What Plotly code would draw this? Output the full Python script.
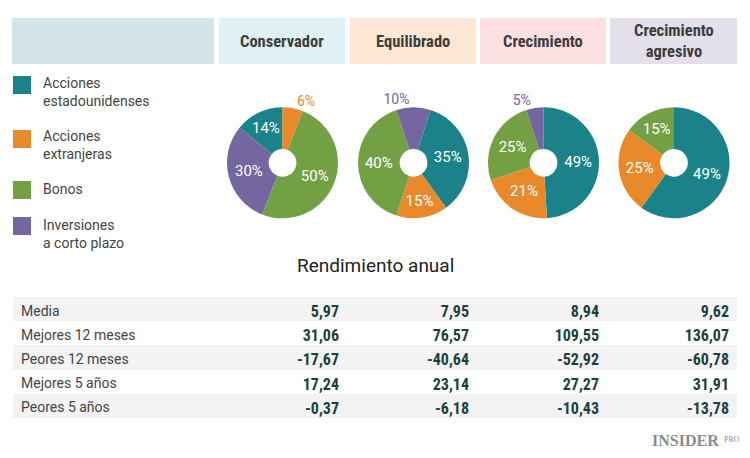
import plotly.graph_objects as go

W, H = 750, 458

# ---------------- data ----------------
portfolios = ["Conservador", "Equilibrado", "Crecimiento", "Crecimiento<br>agresivo"]
assets = ["Acciones<br>estadounidenses", "Acciones<br>extranjeras", "Bonos", "Inversiones<br>a corto plazo"]
asset_colors = ["#1b8289", "#e8892b", "#74a044", "#7466a0"]

conservador = [14, 6, 50, 30]
equilibrado = [35, 15, 40, 10]
crecimiento = [49, 21, 25, 5]
agresivo = [60, 25, 15, 0]            # slice sizes as drawn
agresivo_labels = ["49%", "25%", "15%", ""]  # labels as printed

metrics = ["Media", "Mejores 12 meses", "Peores 12 meses", "Mejores 5 años", "Peores 5 años"]
ret_conservador = [5.97, 31.06, -17.67, 17.24, -0.37]
ret_equilibrado = [7.95, 76.57, -40.64, 23.14, -6.18]
ret_crecimiento = [8.94, 109.55, -52.92, 27.27, -10.43]
ret_agresivo = [9.62, 136.07, -60.78, 31.91, -13.78]

# ---------------- layout helpers ----------------
def fx(x):
    return x / W

def fy(y):
    return 1 - y / H

def fmt(v):
    return f"{v:.2f}".replace(".", ",")

header_colors = ["#d3e5e8", "#dff1f4", "#fbe7d4", "#fcdfe1", "#e3e0eb"]
header_x = [(12, 214), (219, 345), (350, 476), (480, 606), (610, 737)]
header_y = (18, 64)

fig = go.Figure()
shapes = []
annotations = []

for (x0, x1), c in zip(header_x, header_colors):
    shapes.append(dict(type="rect", xref="paper", yref="paper",
                       x0=fx(x0), x1=fx(x1), y0=fy(header_y[1]), y1=fy(header_y[0]),
                       fillcolor=c, line=dict(width=0), layer="below"))

for name, (x0, x1) in zip(portfolios, header_x[1:]):
    annotations.append(dict(text=f"<b>{name}</b>", xref="paper", yref="paper",
                            x=fx((x0 + x1) / 2), y=fy(sum(header_y) / 2),
                            xanchor="center", yanchor="middle", showarrow=False,
                            font=dict(family="Roboto Condensed, Liberation Sans Narrow, Roboto", size=16.5, color="#3d3d3d")))

# legend (manual)
leg_sq_top = [76, 130, 181, 217]
leg_txt_mid = [92, 145, 189, 234]
for a, c, t, m in zip(assets, asset_colors, leg_sq_top, leg_txt_mid):
    shapes.append(dict(type="rect", xref="paper", yref="paper",
                       x0=fx(13), x1=fx(31), y0=fy(t + 18), y1=fy(t),
                       fillcolor=c, line=dict(width=0)))
    annotations.append(dict(text=a, xref="paper", yref="paper", x=fx(41), y=fy(m),
                            xanchor="left", yanchor="middle", align="left", showarrow=False,
                            font=dict(family="Roboto", size=14, color="#444444")))

# pies
pie_values = [conservador, equilibrado, crecimiento, agresivo]
pie_labels = [[f"{v}%" for v in conservador], [f"{v}%" for v in equilibrado],
              [f"{v}%" for v in crecimiento], agresivo_labels]
rotations = [-50.4, 18, 0, 0]
cy, r = 162.8, 55.5
for (x0, x1), vals, labs, rot in zip(header_x[1:], pie_values, pie_labels, rotations):
    cx = (x0 + x1) / 2 + 0.5
    pos = ["outside" if v < 12 else "inside" for v in vals]
    fig.add_trace(go.Pie(
        values=vals, labels=assets, text=labs, textinfo="text",
        sort=False, direction="clockwise", rotation=rot, hole=0.25,
        marker=dict(colors=asset_colors, line=dict(width=0)),
        textposition=pos, insidetextorientation="horizontal",
        insidetextfont=dict(family="Roboto", size=15, color="white"),
        outsidetextfont=dict(family="Roboto", size=14, color=asset_colors),
        showlegend=False, hoverinfo="label+percent",
        domain=dict(x=[fx(cx - r), fx(cx + r)], y=[fy(cy + r), fy(cy - r)]),
    ))

# title of table
annotations.append(dict(text="Rendimiento anual", xref="paper", yref="paper",
                        x=fx(375), y=fy(265), xanchor="center", yanchor="middle", showarrow=False,
                        font=dict(family="Roboto", size=19, color="#222222")))

# table (first row drawn as the header row so there is no empty header band)
cols = [metrics,
        [fmt(v) for v in ret_conservador],
        [fmt(v) for v in ret_equilibrado],
        [fmt(v) for v in ret_crecimiento],
        [fmt(v) for v in ret_agresivo]]
n = len(metrics)
row_fill = ["#f3f3f3" if i % 2 == 0 else "#ffffff" for i in range(n)]
val_font = "Roboto Condensed, Liberation Sans Narrow, Roboto"
vcol = "#1f3f3c"
tfont = dict(family=["Roboto", val_font, val_font, val_font, val_font],
             size=[14, 16, 16, 16, 16],
             weight=[400, 700, 700, 700, 700],
             color=["#444444", vcol, vcol, vcol, vcol])
aligns = ["left", "right", "right", "right", "right"]
rh = 24.2
fig.add_trace(go.Table(
    domain=dict(x=[fx(13), fx(737)], y=[fy(297 + rh * n), fy(297)]),
    columnwidth=[204, 130, 130, 130, 130],
    header=dict(values=[[c[0]] for c in cols], align=aligns, height=rh,
                line=dict(width=0), fill=dict(color=row_fill[0]), font=tfont),
    cells=dict(values=[c[1:] for c in cols], align=aligns, height=rh,
               fill=dict(color=[row_fill[1:]] * 5), line=dict(width=0), font=tfont),
))

# logo
annotations.append(dict(text="<b>INSIDER</b>", xref="paper", yref="paper", x=fx(721), y=fy(440),
                        xanchor="right", yanchor="middle", showarrow=False,
                        font=dict(family="Liberation Serif", size=16, color="#8c8c8c")))
annotations.append(dict(text="PRO", xref="paper", yref="paper", x=fx(722), y=fy(439),
                        xanchor="left", yanchor="middle", showarrow=False,
                        font=dict(family="Liberation Serif", size=8, color="#8c8c8c")))

fig.update_layout(
    width=W, height=H, margin=dict(l=0, r=0, t=0, b=0),
    paper_bgcolor="white", plot_bgcolor="white",
    shapes=shapes, annotations=annotations,
)

fig.write_html("out.html", config={"displayModeBar": False},
               post_script="document.body.style.margin='0';")
